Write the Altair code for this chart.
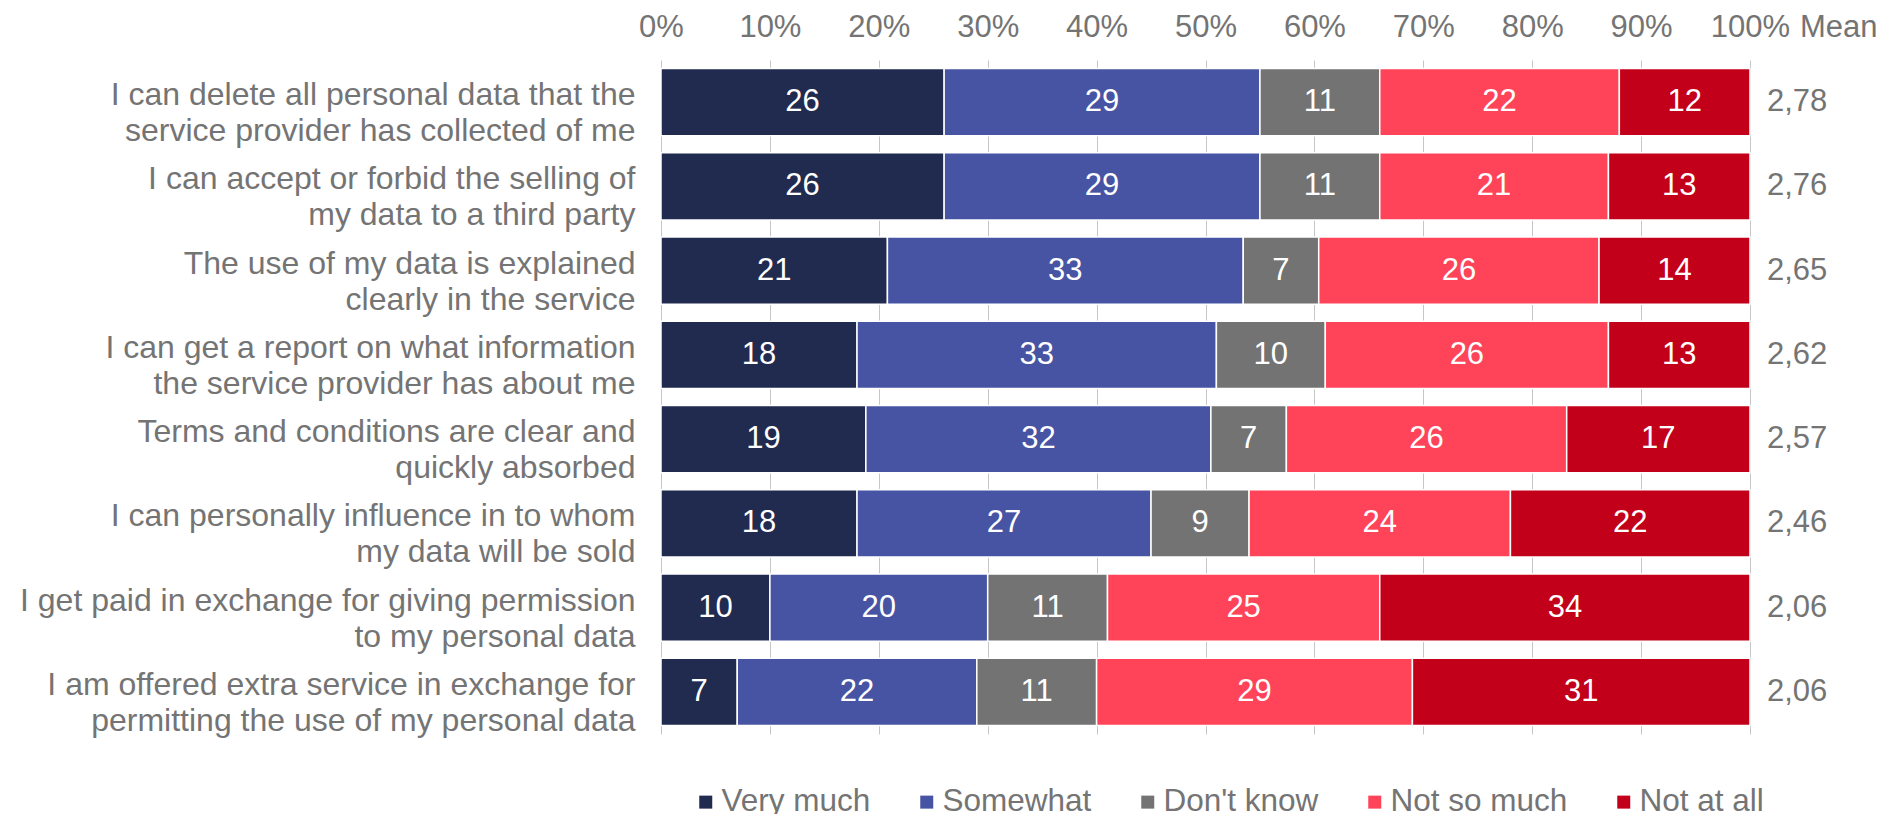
import altair as alt
import pandas as pd

FONT = "Liberation Sans"
GRAY = "#747474"

questions = [
    "I can delete all personal data that the|service provider has collected of me",
    "I can accept or forbid the selling of|my data to a third party",
    "The use of my data is explained|clearly in the service",
    "I can get a report on what information|the service provider has about me",
    "Terms and conditions are clear and|quickly absorbed",
    "I can personally influence in to whom|my data will be sold",
    "I get paid in exchange for giving permission|to my personal data",
    "I am offered extra service in exchange for|permitting the use of my personal data",
]
categories = ["Very much", "Somewhat", "Don't know", "Not so much", "Not at all"]
colors = ["#212a4f", "#4754a3", "#737373", "#ff4459", "#c3001a"]

very_much = [26, 26, 21, 18, 19, 18, 10, 7]
somewhat = [29, 29, 33, 33, 32, 27, 20, 22]
dont_know = [11, 11, 7, 10, 7, 9, 11, 11]
not_so_much = [22, 21, 26, 26, 26, 24, 25, 29]
not_at_all = [12, 13, 14, 13, 17, 22, 34, 31]
means = ["2,78", "2,76", "2,65", "2,62", "2,57", "2,46", "2,06", "2,06"]
mean_title = ["Mean"]
x_ticks = [0, 0.1, 0.2, 0.3, 0.4, 0.5, 0.6, 0.7, 0.8, 0.9, 1.0]

series = [very_much, somewhat, dont_know, not_so_much, not_at_all]
rows = []
for qi, q in enumerate(questions):
    for ci, c in enumerate(categories):
        rows.append({"question": q, "category": c, "order": ci, "value": series[ci][qi]})
df = pd.DataFrame(rows)
df_mean = pd.DataFrame({"question": questions, "mean": means})

W, H = 1089, 674

y_enc = alt.Y(
    "question:N",
    sort=questions,
    scale=alt.Scale(paddingInner=0.2, paddingOuter=0.1),
    axis=alt.Axis(
        title=None,
        labelExpr="split(datum.label, '|')",
        labelFont=FONT,
        labelFontSize=32,
        labelColor=GRAY,
        labelLineHeight=36,
        labelPadding=26,
        labelOffset=-7,
        labelLimit=1000,
        ticks=False,
        domain=False,
        grid=False,
    ),
)

base = alt.Chart(df).transform_stack(
    stack="value",
    groupby=["question"],
    as_=["v0", "v1"],
    sort=[alt.SortField("order", order="ascending")],
    offset="normalize",
).transform_calculate(mid="(datum.v0 + datum.v1) / 2")

bars = base.mark_bar(stroke="white", strokeWidth=1.5).encode(
    x=alt.X(
        "v0:Q",
        scale=alt.Scale(domain=[0, 1], nice=False),
        axis=alt.Axis(
            orient="top",
            title=None,
            format=".0%",
            values=x_ticks,
            labelFont=FONT,
            labelFontSize=31,
            labelColor=GRAY,
            labelPadding=17,
            labelOverlap=False,
            labelFlush=False,
            labelBound=False,
            ticks=False,
            tickSize=0,
            domain=False,
            grid=True,
            gridColor="#c6c6c6",
            gridWidth=1,
        ),
    ),
    x2="v1:Q",
    y=y_enc,
    color=alt.Color(
        "category:N",
        sort=categories,
        scale=alt.Scale(domain=categories, range=colors),
        legend=alt.Legend(
            title=None,
            orient="none",
            legendX=29,
            legendY=726,
            padding=0,
            direction="horizontal",
            symbolType="square",
            symbolSize=169,
            symbolStrokeWidth=0,
            labelFont=FONT,
            labelFontSize=31.5,
            labelColor=GRAY,
            labelOffset=0,
            columnPadding=40,
            labelLimit=1000,
        ),
    ),
    order=alt.Order("order:Q"),
)

labels = base.mark_text(color="white", font=FONT, fontSize=31, baseline="middle").encode(
    x="mid:Q",
    y=y_enc,
    text="value:Q",
)

mean_text = alt.Chart(df_mean).mark_text(
    align="left", baseline="middle", font=FONT, fontSize=31, color=GRAY
).encode(
    x=alt.value(W + 17),
    y=y_enc,
    text="mean:N",
)

mean_head = alt.Chart(pd.DataFrame({"t": mean_title})).mark_text(
    align="left", baseline="middle", font=FONT, fontSize=31, color=GRAY
).encode(
    x=alt.value(W + 50),
    y=alt.value(-32),
    text="t:N",
)

chart = alt.layer(bars, labels, mean_text, mean_head).properties(
    width=W,
    height=H,
    autosize=alt.AutoSizeParams(type="none"),
    padding={"left": 653, "top": 52, "right": 128, "bottom": 80},
).configure_view(stroke=None)

chart.save("out.html", embed_options={"renderer": "svg", "actions": False})
